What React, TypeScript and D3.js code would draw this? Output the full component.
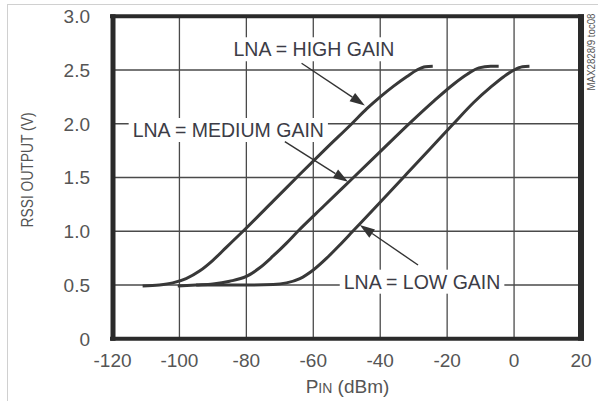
import React, { useEffect, useRef } from "react";
import * as d3 from "d3";

// ---- data (dBm, V) ----
const highGainX = [-111, -106, -102, -98, -94, -90, -86, -81, -72, -64, -56, -48.5, -44, -40, -36, -32, -29, -26.5, -24.3];
const highGainY = [0.49, 0.5, 0.52, 0.56, 0.63, 0.73, 0.85, 1.0, 1.28, 1.53, 1.775, 2.0, 2.14, 2.25, 2.35, 2.44, 2.5, 2.53, 2.535];
const medGainX = [-100.5, -95, -90, -85, -80, -76, -72, -68, -64.6, -57, -49, -40, -31, -24, -18, -14, -10.5, -7, -4.6];
const medGainY = [0.49, 0.5, 0.51, 0.535, 0.58, 0.66, 0.77, 0.89, 1.0, 1.23, 1.47, 1.74, 2.01, 2.21, 2.37, 2.46, 2.52, 2.535, 2.535];
const lowGainX = [-95, -80, -72, -68, -64, -60, -56, -52, -48.2, -40, -32.8, -25, -18.4, -12, -7, -3, 0, 2.5, 4.6];
const lowGainY = [0.5, 0.5, 0.505, 0.52, 0.56, 0.64, 0.75, 0.875, 1.0, 1.27, 1.51, 1.77, 1.99, 2.2, 2.34, 2.44, 2.5, 2.53, 2.535];

const xTicks = [-120, -100, -80, -60, -40, -20, 0, 20];
const yTicks = [0, 0.5, 1.0, 1.5, 2.0, 2.5, 3.0];
const yTickLabels = ["0", "0.5", "1.0", "1.5", "2.0", "2.5", "3.0"];

const annLabels = ["LNA = HIGH GAIN", "LNA = MEDIUM GAIN", "LNA = LOW GAIN"];
const annTextPos: [number, number][] = [[-59.8, 2.693], [-85.4, 1.942], [-27.5, 0.531]];
const annArrowFrom: [number, number][] = [[-63.5, 2.563], [-68.5, 1.833], [-28.7, 0.686]];
const annArrowTo: [number, number][] = [[-44.6, 2.17], [-49.6, 1.461], [-46.1, 1.058]];

export default function App() {
  const ref = useRef<SVGSVGElement>(null);
  useEffect(() => {
    const svg = d3.select(ref.current);
    svg.selectAll("*").remove();
    const W = 598, H = 401;
    const x = d3.scaleLinear().domain([-120, 20]).range([112.5, 581]);
    const y = d3.scaleLinear().domain([0, 3]).range([338.75, 16.25]);
    const font = "'Liberation Sans', Arial, Helvetica, sans-serif";

    svg.append("rect").attr("width", W).attr("height", H).attr("fill", "#fff");
    // outer faint frame
    svg.append("line").attr("x1", 7).attr("x2", W).attr("y1", 4.5).attr("y2", 4.5).attr("stroke", "#d0d0d0");
    svg.append("line").attr("x1", 7.5).attr("x2", 7.5).attr("y1", 4).attr("y2", H).attr("stroke", "#d0d0d0");

    // grid
    const g = svg.append("g");
    g.selectAll("line.vx").data(xTicks.slice(1, -1)).join("line")
      .attr("x1", (d) => x(d)).attr("x2", (d) => x(d))
      .attr("y1", y(3)).attr("y2", y(0))
      .attr("stroke", "#4a4a4a").attr("stroke-width", 1.3);
    g.selectAll("line.hy").data(yTicks.slice(1, -1)).join("line")
      .attr("x1", x(-120)).attr("x2", x(20))
      .attr("y1", (d) => y(d)).attr("y2", (d) => y(d))
      .attr("stroke", "#4a4a4a").attr("stroke-width", 1.3);

    // curves
    const line = d3.line<[number, number]>().x((d) => x(d[0])).y((d) => y(d[1])).curve(d3.curveMonotoneX);
    const series: [number[], number[]][] = [[highGainX, highGainY], [medGainX, medGainY], [lowGainX, lowGainY]];
    series.forEach(([xs, ys]) => {
      const pts = xs.map((v, i) => [v, ys[i]] as [number, number]);
      svg.append("path").attr("d", line(pts)!).attr("fill", "none")
        .attr("stroke", "#383838").attr("stroke-width", 3).attr("stroke-linecap", "butt");
    });

    // annotations
    annLabels.forEach((lab, i) => {
      const ag = svg.append("g");
      const [tx, ty] = annTextPos[i];
      const rect = ag.append("rect").attr("fill", "#fff");
      const t = ag.append("text").attr("x", x(tx)).attr("y", y(ty)).attr("dy", "0.36em")
        .attr("text-anchor", "middle").attr("font-family", font).attr("font-size", 19.5)
        .attr("fill", "#3c3c46").text(lab);
      const bb = (t.node() as SVGTextElement).getBBox();
      rect.attr("x", bb.x - 4).attr("y", bb.y - 1).attr("width", bb.width + 8).attr("height", bb.height + 2);
      const [fx, fy] = annArrowFrom[i];
      const [ex, ey] = annArrowTo[i];
      const x1 = x(fx), y1 = y(fy), x2 = x(ex), y2 = y(ey);
      const ang = Math.atan2(y2 - y1, x2 - x1);
      const L = 15, Wd = 5;
      const bx = x2 - L * Math.cos(ang), by = y2 - L * Math.sin(ang);
      svg.append("line").attr("x1", x1).attr("y1", y1).attr("x2", bx).attr("y2", by)
        .attr("stroke", "#333").attr("stroke-width", 1.4);
      const p1 = [bx + Wd * Math.sin(ang), by - Wd * Math.cos(ang)];
      const p2 = [bx - Wd * Math.sin(ang), by + Wd * Math.cos(ang)];
      svg.append("path").attr("d", `M${x2},${y2}L${p1[0]},${p1[1]}L${p2[0]},${p2[1]}Z`).attr("fill", "#333");
    });

    // frame
    const fc = "#2a2a2a";
    svg.append("line").attr("x1", x(-120) - 2.5).attr("x2", x(20) + 3).attr("y1", y(3)).attr("y2", y(3)).attr("stroke", fc).attr("stroke-width", 4);
    svg.append("line").attr("x1", x(-120) - 2.5).attr("x2", x(20) + 3).attr("y1", y(0)).attr("y2", y(0)).attr("stroke", fc).attr("stroke-width", 4);
    svg.append("line").attr("x1", x(-120) + 0.5).attr("x2", x(-120) + 0.5).attr("y1", y(3) - 2).attr("y2", y(0) + 2).attr("stroke", fc).attr("stroke-width", 5);
    svg.append("line").attr("x1", x(20)).attr("x2", x(20)).attr("y1", y(3) - 2).attr("y2", y(0) + 2).attr("stroke", fc).attr("stroke-width", 6);

    // tick labels
    svg.selectAll("text.xt").data(xTicks).join("text")
      .attr("x", (d) => x(d)).attr("y", 367)
      .attr("text-anchor", "middle").attr("font-family", font).attr("font-size", 19)
      .attr("fill", "#555").text((d) => String(d));
    svg.selectAll("text.yt").data(yTicks).join("text")
      .attr("x", 90).attr("y", (d) => y(d)).attr("dy", "0.36em")
      .attr("text-anchor", "end").attr("font-family", font).attr("font-size", 19)
      .attr("fill", "#555").text((d, i) => yTickLabels[i]);

    // axis titles
    const xt = svg.append("text").attr("x", 347.5).attr("y", 393).attr("text-anchor", "middle")
      .attr("font-family", font).attr("font-size", 19).attr("fill", "#555");
    xt.append("tspan").text("P");
    xt.append("tspan").attr("font-size", 14).text("IN");
    xt.append("tspan").text(" (dBm)");

    svg.append("text").attr("transform", "translate(33,170) rotate(-90)")
      .attr("text-anchor", "middle").attr("font-family", font).attr("font-size", 16)
      .attr("textLength", 115).attr("lengthAdjust", "spacingAndGlyphs")
      .attr("fill", "#555").text("RSSI OUTPUT (V)");

    svg.append("text").attr("transform", "translate(594.5,52) rotate(-90)")
      .attr("text-anchor", "middle").attr("font-family", font).attr("font-size", 10)
      .attr("textLength", 77).attr("lengthAdjust", "spacingAndGlyphs")
      .attr("fill", "#555").text("MAX2828/9 toc08");
  }, []);
  return (
    <svg ref={ref} width={598} height={401} style={{ position: "absolute", left: 0, top: 0 }} />
  );
}
